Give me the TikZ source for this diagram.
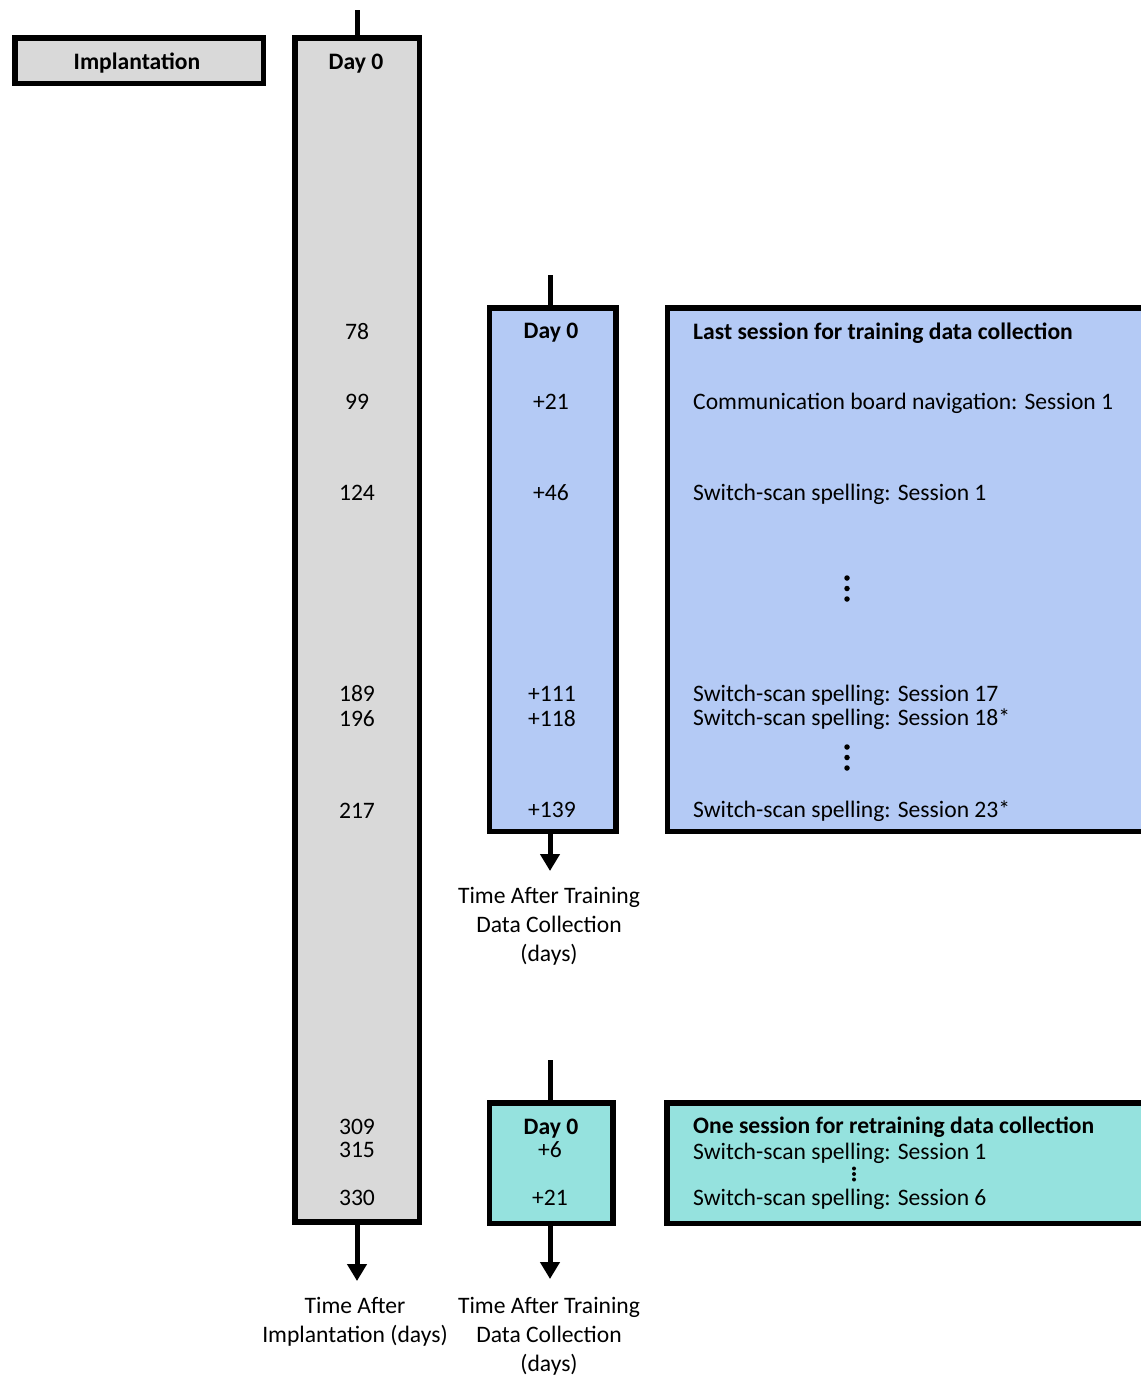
\documentclass[tikz,border=0pt]{standalone}
\usepackage{fontspec}
\setmainfont{Carlito}
\usetikzlibrary{arrows.meta}
\definecolor{graybox}{RGB}{217,217,217}
\definecolor{bluebox}{RGB}{180,202,245}
\definecolor{tealbox}{RGB}{149,226,222}
\begin{document}
\begin{tikzpicture}[x=1pt,y=-1pt,
  box/.style={draw=black, line width=5.5pt, inner sep=0pt},
  txt/.style={inner sep=0pt, font=\fontsize{23.6}{29}\selectfont},
  bfont/.style={font=\fontsize{23.6}{29}\selectfont\bfseries},
  lbl/.style={txt, anchor=mid, yshift=-6.5pt},
  lft/.style={txt, anchor=mid west, yshift=-6.5pt},
  capt/.style={txt, anchor=north, align=center},
  tickline/.style={line width=5pt},
  arr/.style={line width=5pt, -{Triangle[width=19pt,length=17pt]}},
  dotmark/.style={circle, fill=black, inner sep=0pt, minimum size=5.5pt}]
\useasboundingbox (0,0) rectangle (1141,1377);
\clip (0,0) rectangle (1141,1377);

% boxes
\node[box, fill=graybox, minimum width=248.5pt, minimum height=45.5pt] (impl) at (139,60.5) {};
\node[box, fill=graybox, minimum width=124.5pt, minimum height=1184pt] (gcol) at (357,630) {};
\node[box, fill=bluebox, minimum width=126.5pt, minimum height=523.5pt] (bcol) at (552.5,569.5) {};
\node[box, fill=bluebox, minimum width=520pt, minimum height=523.5pt, anchor=west] (bbox) at (664.5,569.5) {};
\node[box, fill=tealbox, minimum width=123.5pt, minimum height=120.5pt] (tcol) at (551,1163) {};
\node[box, fill=tealbox, minimum width=520pt, minimum height=120.5pt, anchor=west] (tbox) at (664,1163) {};

% ticks and arrows
\coordinate (gtop) at (357,10);
\coordinate (btop) at (550,275);
\coordinate (ttop) at (550,1060);
\coordinate (gend) at (357,1281);
\coordinate (bend) at (550,871);
\coordinate (tend) at (550,1279);
\draw[tickline] (gtop) -- (gcol.north -| gtop);
\draw[tickline] (btop) -- (bcol.north -| btop);
\draw[tickline] (ttop) -- (tcol.north -| ttop);
\draw[arr] (gcol.south -| gend) -- (gend);
\draw[arr] (bcol.south -| bend) -- (bend);
\draw[arr] (tcol.south -| tend) -- (tend);

% implantation column text
\node[lbl, bfont] (impltxt) at (137,61) {Implantation};
\node[lbl, bfont] (g0) at (356,61) {Day 0};
\node[lbl] (g78) at (357,331) {78};
\node[lbl] (g99) at (357,401) {99};
\node[lbl] (g124) at (357,492) {124};
\node[lbl] (g189) at (357,693) {189};
\node[lbl] (g196) at (357,718) {196};
\node[lbl] (g217) at (357,810) {217};
\node[lbl] (g309) at (357,1126) {309};
\node[lbl] (g315) at (357,1149) {315};
\node[lbl] (g330) at (357,1197) {330};

% blue column text
\node[lbl, bfont] (b0) at (551,330) {Day 0};
\node[lbl] (b21) at (551,401) {+21};
\node[lbl] (b46) at (551,492) {+46};
\node[lbl] (b111) at (552,693) {+111};
\node[lbl] (b118) at (552,718) {+118};
\node[lbl] (b139) at (552,809) {+139};

% blue box text
\node[lft, bfont] (bh) at (693,331) {Last session for training data collection};
\node[lft] (bl1) at (693,401) {Communication board navigation: Session 1};
\node[lft] (bl2) at (693,492) {Switch-scan spelling: Session 1};
\node[lft] (bl3) at (693,693) {Switch-scan spelling: Session 17};
\node[lft] (bl4) at (693,717) {Switch-scan spelling: Session 18*};
\node[lft] (bl5) at (693,809) {Switch-scan spelling: Session 23*};
\node[dotmark] (bd1) at (847,578) {};
\node[dotmark] (bd2) at (847,588.5) {};
\node[dotmark] (bd3) at (847,599) {};
\node[dotmark] (bd4) at (847,747) {};
\node[dotmark] (bd5) at (847,757.5) {};
\node[dotmark] (bd6) at (847,768) {};

% teal column text
\node[lbl, bfont] (t0) at (551,1126) {Day 0};
\node[lbl] (t6) at (550,1149) {+6};
\node[lbl] (t21) at (550,1197) {+21};

% teal box text
\node[lft, bfont] (th) at (693,1125) {One session for retraining data collection};
\node[lft] (tl1) at (693,1151) {Switch-scan spelling: Session 1};
\node[lft] (tl2) at (693,1197) {Switch-scan spelling: Session 6};
\node[dotmark, minimum size=4pt] (td1) at (854,1168.5) {};
\node[dotmark, minimum size=4pt] (td2) at (854,1174) {};
\node[dotmark, minimum size=4pt] (td3) at (854,1179.5) {};

% captions
\node[capt] (bcap) at (549,887) {Time After Training\\Data Collection\\(days)};
\node[capt] (gcap) at (355,1297) {Time After\\Implantation (days)};
\node[capt] (tcap) at (549,1297) {Time After Training\\Data Collection\\(days)};
\end{tikzpicture}
\end{document}
